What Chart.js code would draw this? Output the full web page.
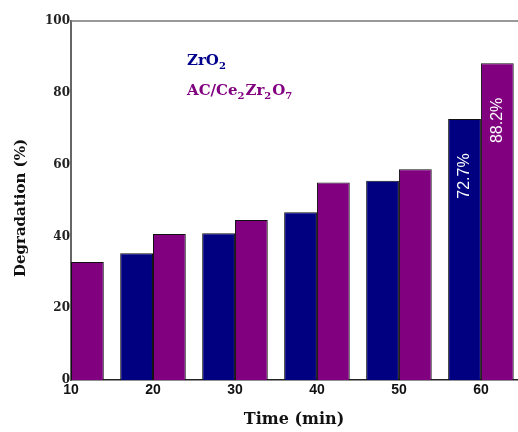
<!DOCTYPE html>
<html lang="en">
<head>
	<meta charset="UTF-8">
	<title>Degradation vs time</title>
	<script src="https://cdn.jsdelivr.net/npm/chart.js"></script>
	<style>
		body { margin: 0; background: #fff; }
		#wrap { width: 518px; height: 432px; }
	</style>
</head>
<body>
	<div id="wrap"><canvas id="myChart" width="518" height="432"></canvas></div>

	<script>
		// ----- data -----
		const times = [10, 20, 30, 40, 50, 60];          // min
		const zro2 = [null, 35.3, 40.9, 46.7, 55.5, 72.7];
		const acCeZr = [32.9, 40.7, 44.6, 55.0, 58.7, 88.2];
		const yTicks = [0, 20, 40, 60, 80, 100];

		const NAVY = '#000080';
		const PURPLE = '#800080';

		// pieces of the legend text, second item = subscript
		const legendItems = [
			{ color: '#00008b', parts: [['ZrO', false], ['2', true]] },
			{ color: PURPLE, parts: [['AC/Ce', false], ['2', true], ['Zr', false], ['2', true], ['O', false], ['7', true]] }
		];

		const toPoints = (arr) => times.map((t, i) => ({ x: t, y: arr[i] }));

		// ----- custom texts: legend inside plot, y title, value labels -----
		const textPlugin = {
			id: 'texts',
			afterDatasetsDraw(chart) {
				const ctx = chart.ctx;
				const area = chart.chartArea;
				ctx.save();

				// top frame line
				ctx.strokeStyle = '#777';
				ctx.lineWidth = 1.5;
				ctx.beginPath();
				ctx.moveTo(area.left, area.top);
				ctx.lineTo(chart.width, area.top);
				ctx.stroke();

				// legend
				const big = 'bold 15px "DejaVu Serif"';
				const small = 'bold 10px "DejaVu Serif"';
				ctx.textBaseline = 'alphabetic';
				ctx.textAlign = 'left';
				legendItems.forEach((item, k) => {
					let x = area.left + 116;
					const y = area.top + 44 + k * 30;
					ctx.fillStyle = item.color;
					item.parts.forEach(([txt, sub]) => {
						ctx.font = sub ? small : big;
						ctx.fillText(txt, x, sub ? y + 4 : y);
						x += ctx.measureText(txt).width + (sub ? 1 : 0);
					});
				});

				// y axis title
				ctx.save();
				ctx.translate(21, 208);
				ctx.rotate(-Math.PI / 2);
				ctx.font = 'bold 15px "DejaVu Serif"';
				ctx.fillStyle = '#111';
				ctx.textAlign = 'center';
				ctx.textBaseline = 'middle';
				ctx.fillText('Degradation (%)', 0, 0);
				ctx.restore();

				// value labels on the last bars
				ctx.font = '16px "Liberation Sans"';
				ctx.fillStyle = '#fff';
				ctx.textAlign = 'center';
				ctx.textBaseline = 'middle';
				chart.data.datasets.forEach((ds, i) => {
					const meta = chart.getDatasetMeta(i);
					const last = meta.data[meta.data.length - 1];
					const v = ds.data[ds.data.length - 1].y;
					ctx.save();
					ctx.translate(last.x, last.y + 57);
					ctx.rotate(-Math.PI / 2);
					ctx.fillText(v + '%', 0, 0);
					ctx.restore();
				});

				ctx.restore();
			}
		};

		const config = {
			type: 'bar',
			data: {
				datasets: [
					{
						label: 'ZrO2',
						data: toPoints(zro2),
						backgroundColor: NAVY,
						borderColor: '#111',
						borderWidth: 1
					},
					{
						label: 'AC/Ce2Zr2O7',
						data: toPoints(acCeZr),
						backgroundColor: PURPLE,
						borderColor: '#111',
						borderWidth: 1
					}
				]
			},
			options: {
				responsive: false,
				animation: false,
				categoryPercentage: 0.8,
				barPercentage: 1.0,
				layout: { padding: { top: 21, right: 1, left: 0, bottom: 0 } },
				plugins: {
					legend: { display: false },
					tooltip: { enabled: false }
				},
				scales: {
					x: {
						type: 'linear',
						offset: false,
						min: 10,
						max: 64.4,
						afterBuildTicks: (scale) => { scale.ticks = times.map(v => ({ value: v })); },
						afterFit: (scale) => { scale.height = 52; },
						grid: { display: false, drawTicks: false, offset: false },
						border: { display: true, color: '#222', width: 1.5 },
						ticks: {
							padding: 2,
							color: '#111',
							font: { family: '"Liberation Sans"', size: 14, weight: 'bold' }
						},
						title: {
							display: true,
							text: 'Time (min)',
							color: '#111',
							font: { family: '"DejaVu Serif"', size: 16, weight: 'bold' },
							padding: { top: 0, bottom: 3 }
						}
					},
					y: {
						min: 0,
						max: 100,
						afterBuildTicks: (scale) => { scale.ticks = yTicks.map(v => ({ value: v })); },
						afterFit: (scale) => { scale.width = 71; },
						grid: { display: false, drawTicks: false },
						border: { display: true, color: '#666', width: 2 },
						ticks: {
							padding: 1,
							color: '#222',
							font: { family: '"DejaVu Serif"', size: 12, weight: 'bold' }
						}
					}
				}
			},
			plugins: [textPlugin]
		};

		const ctx = document.getElementById('myChart').getContext('2d');
		const resultChart = new Chart(ctx, config);
	</script>
</body>
</html>
